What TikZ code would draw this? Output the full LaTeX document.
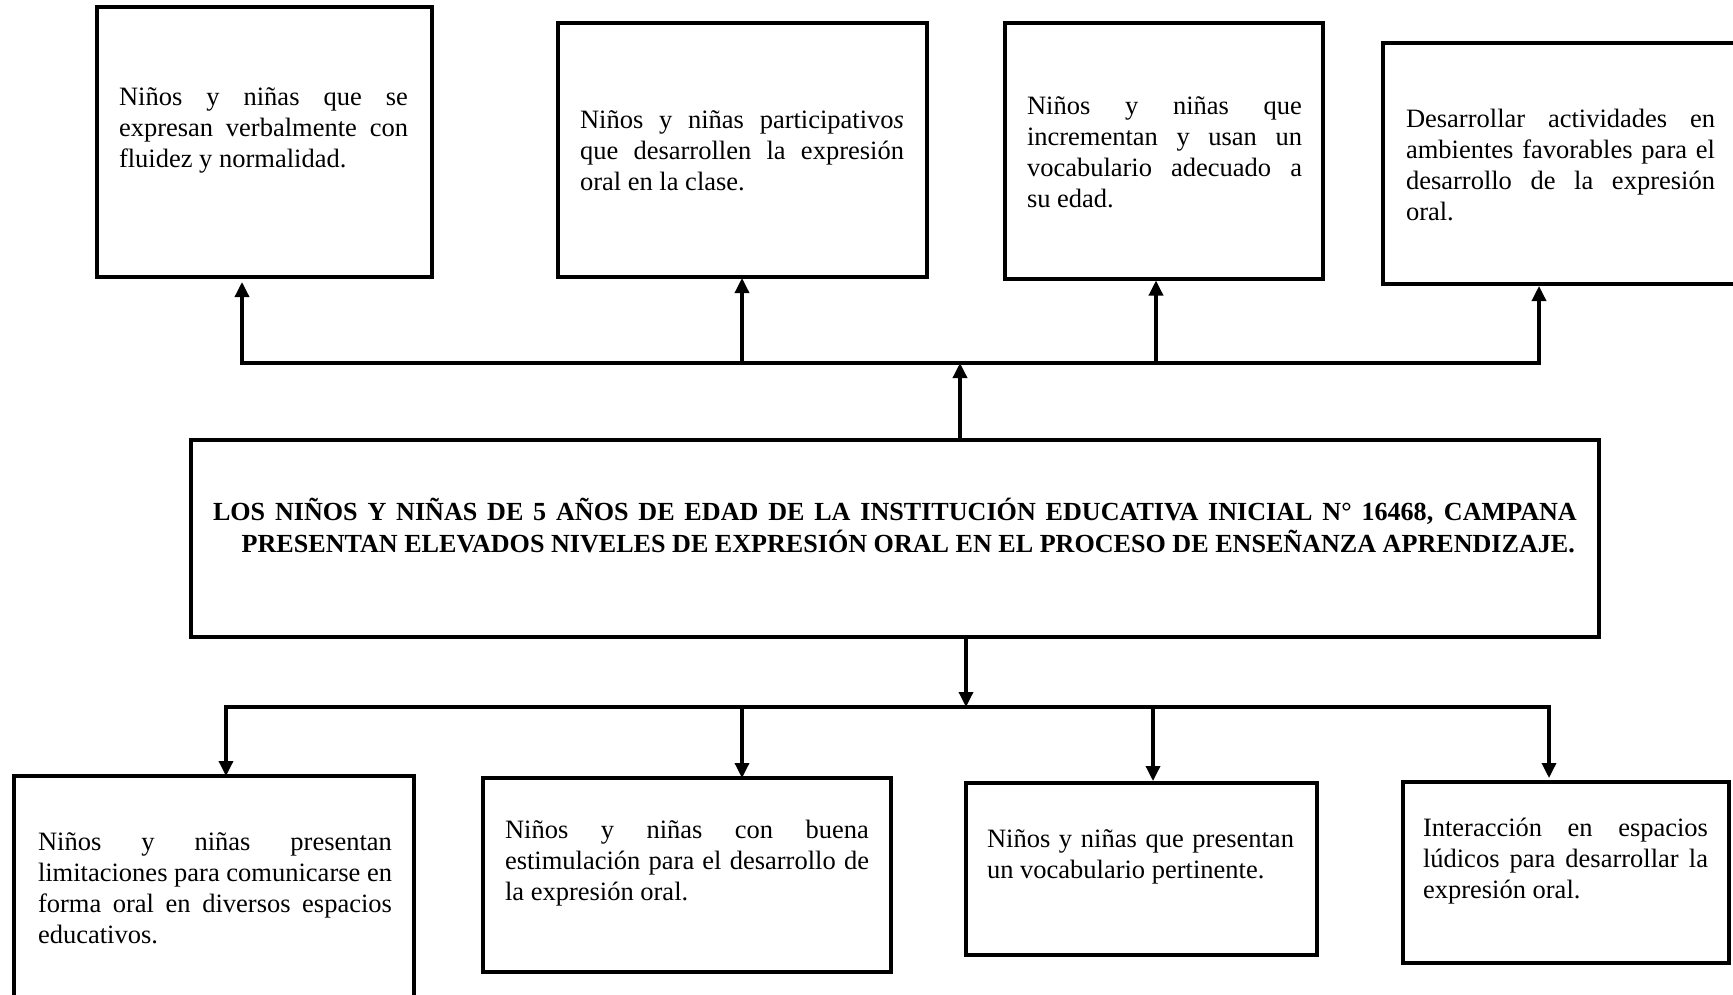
\documentclass[tikz,border=0pt]{standalone}
\usepackage{fontspec}
\setmainfont{Liberation Serif}
\usetikzlibrary{arrows.meta,calc}
\newcommand\justline[1]{\makebox[\hsize][s]{#1}}
\newcommand\normsp{\spaceskip=0pt\xspaceskip=0pt\relax}
\begin{document}
\begin{tikzpicture}[x=1pt,y=-1pt,
  box/.style={draw,line width=3.5pt,inner sep=0pt,outer sep=0pt,anchor=north west},
  txt/.style={inner sep=0pt,outer sep=0pt,anchor=north west,align=left,font=\fontsize{26.5}{31}\selectfont},
  maintxt/.style={inner sep=0pt,outer sep=0pt,anchor=north west,align=left,font=\bfseries\fontsize{26.1}{28.7}\selectfont},
  conn/.style={line width=3.4pt,line cap=rect},
  arr/.style={line width=3.4pt,-{Triangle[length=15pt,width=14pt]}}]
\useasboundingbox (0,0) rectangle (1733,995);
\clip (0,0) rectangle (1733,995);

% boxes
\node[box,minimum width=335pt,minimum height=270pt] (A) at (97,7) {};
\node[box,minimum width=369pt,minimum height=254pt] (B) at (558,23) {};
\node[box,minimum width=318pt,minimum height=256pt] (C) at (1005,23) {};
\node[box,minimum width=355pt,minimum height=241pt] (D) at (1383,43) {};
\node[box,minimum width=1408pt,minimum height=197pt] (M) at (191,440) {};
\node[box,minimum width=400pt,minimum height=240pt] (E) at (14,776) {};
\node[box,minimum width=408pt,minimum height=194pt] (F) at (483,778) {};
\node[box,minimum width=351pt,minimum height=172pt] (G) at (966,783) {};
\node[box,minimum width=326pt,minimum height=181pt] (H) at (1403,782) {};

% texts
\node[txt,text width=289pt] (tA) at (119,84.3) {\normsp\strut\justline{Niños y niñas que se}\\\justline{expresan verbalmente con}\\fluidez y normalidad.};
\node[txt,text width=324pt] (tB) at (580,107.3) {\normsp\strut\justline{Niños y niñas participativo\textit{s}}\\\justline{que desarrollen la expresión}\\oral en la clase.};
\node[txt,text width=275pt] (tC) at (1027,92.9) {\normsp\strut\justline{Niños y niñas que}\\\justline{incrementan y usan un}\\\justline{vocabulario adecuado a}\\su edad.};
\node[txt,text width=309pt] (tD) at (1406,106.3) {\normsp\strut\justline{Desarrollar actividades en}\\\justline{ambientes favorables para el}\\\justline{desarrollo de la expresión}\\oral.};
\node[maintxt,text width=1364pt] (tM) at (213,497.9) {\normsp\strut\justline{LOS NIÑOS Y NIÑAS DE 5 AÑOS DE EDAD DE LA INSTITUCIÓN EDUCATIVA INICIAL N° 16468, CAMPANA}\\\makebox[\hsize][r]{PRESENTAN ELEVADOS NIVELES DE EXPRESIÓN ORAL EN EL PROCESO DE ENSEÑANZA APRENDIZAJE.\hspace{2pt}}};
\node[txt,text width=354pt] (tE) at (38,829) {\normsp\strut\justline{Niños y niñas presentan}\\\justline{limitaciones para comunicarse en}\\\justline{forma oral en diversos espacios}\\educativos.};
\node[txt,text width=364pt] (tF) at (505,816.8) {\normsp\strut\justline{Niños y niñas con buena}\\\justline{estimulación para el desarrollo de}\\la expresión oral.};
\node[txt,text width=307pt] (tG) at (987,825.3) {\normsp\strut\justline{Niños y niñas que presentan}\\un vocabulario pertinente.};
\node[txt,text width=285pt] (tH) at (1423,814.3) {\normsp\strut\justline{Interacción en espacios}\\\justline{lúdicos para desarrollar la}\\expresión oral.};

% top connectors
\coordinate (tbL) at (242,363);
\coordinate (tbR) at (1539,363);
\coordinate (tbC) at (960,363);
\coordinate (tbB) at (742,363);
\coordinate (tbCc) at (1156,363);
\draw[conn] (tbL) -- (tbR);
\draw[arr] (M.north -| tbC) -- (tbC);
\draw[arr,shorten >=5pt] (tbL) -- (tbL |- A.south);
\draw[arr,shorten >=1pt] (tbB) -- (tbB |- B.south);
\draw[arr,shorten >=1.5pt] (tbCc) -- (tbCc |- C.south);
\draw[arr,shorten >=2pt] (tbR) -- (tbR |- D.south);

% bottom connectors
\coordinate (bbL) at (226,707);
\coordinate (bbR) at (1549,707);
\coordinate (bbC) at (966,707);
\coordinate (bbF) at (742,707);
\coordinate (bbG) at (1153,707);
\draw[conn] (bbL) -- (bbR);
\draw[arr] (M.south -| bbC) -- (bbC);
\draw[arr] (bbL) -- (bbL |- E.north);
\draw[arr] (bbF) -- (bbF |- F.north);
\draw[arr,shorten >=2pt] (bbG) -- (bbG |- G.north);
\draw[arr,shorten >=4pt] (bbR) -- (bbR |- H.north);
\end{tikzpicture}
\end{document}
